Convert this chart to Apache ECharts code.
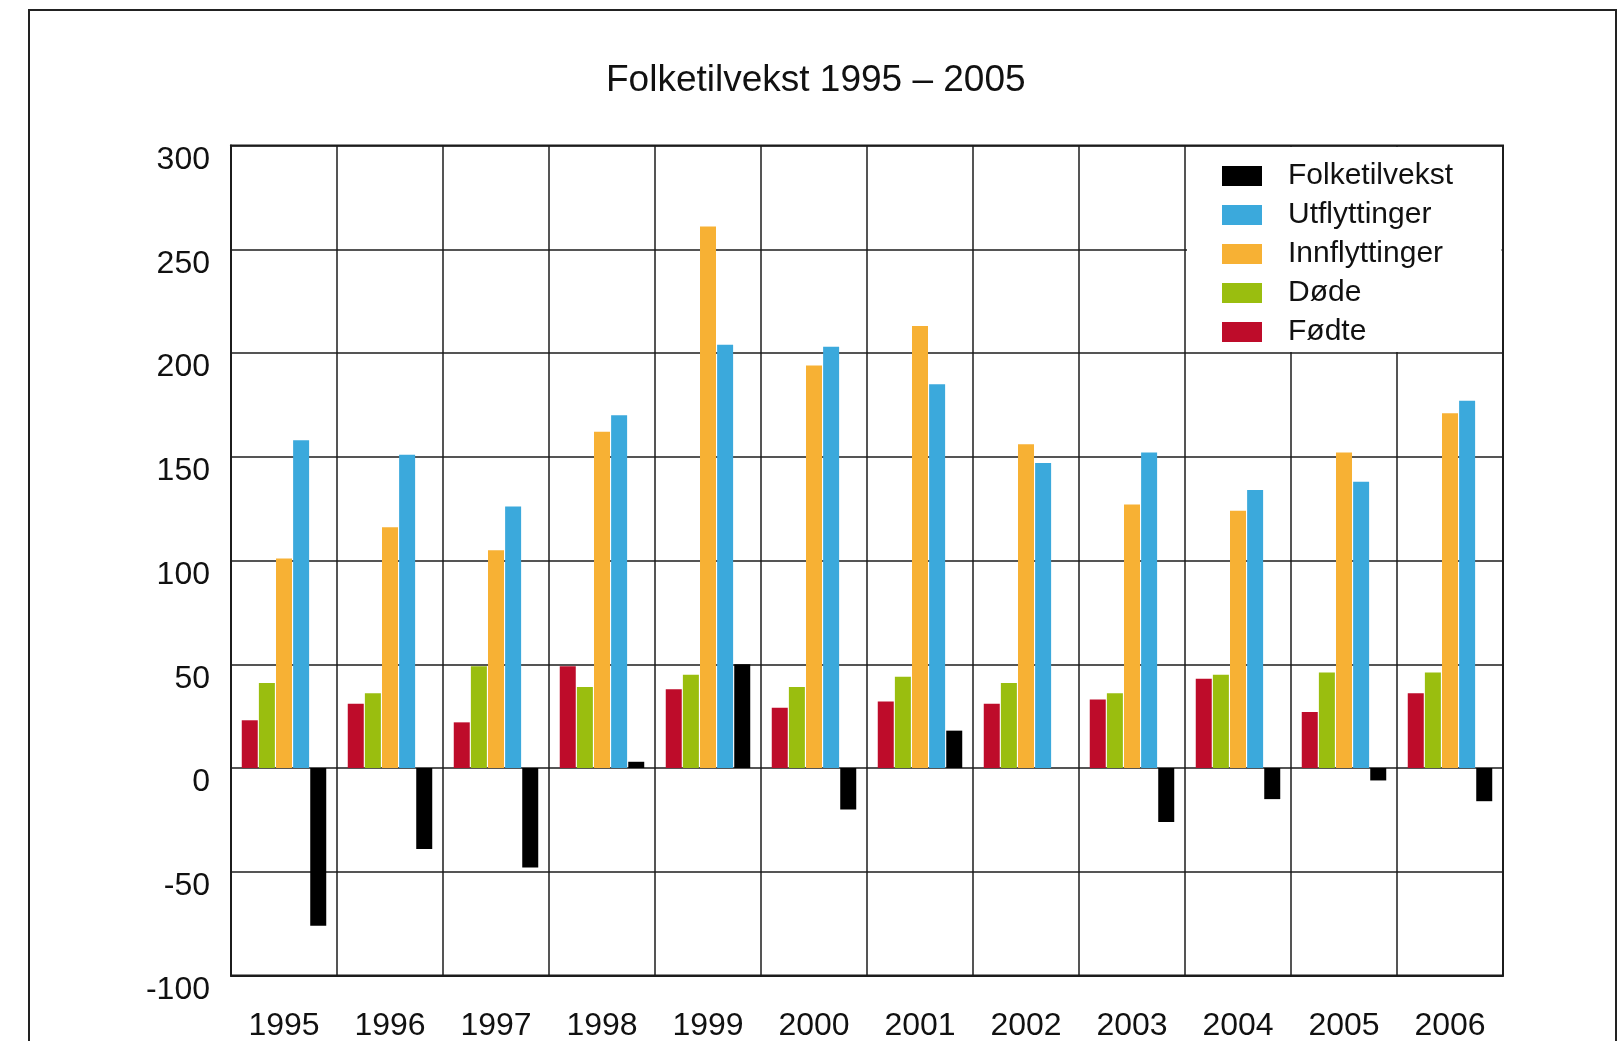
<!DOCTYPE html>
<html>
<head>
<meta charset="utf-8">
<title>Folketilvekst 1995 – 2005</title>
<script src="https://cdn.jsdelivr.net/npm/echarts@6/dist/echarts.min.js"></script>
<style>
    html, body { margin: 0; padding: 0; background: #fff; }
    #chart { width: 1622px; height: 1041px; }
</style>
</head>
<body>
<div id="chart"></div>
<script>
// data
var years = ["1995", "1996", "1997", "1998", "1999", "2000", "2001", "2002", "2003", "2004", "2005", "2006"];
var fodte = [23, 31, 22, 49, 38, 29, 32, 31, 33, 43, 27, 36];
var dode = [41, 36, 49, 39, 45, 39, 44, 41, 36, 45, 46, 46];
var innflyttinger = [101, 116, 105, 162, 261, 194, 213, 156, 127, 124, 152, 171];
var utflyttinger = [158, 151, 126, 170, 204, 203, 185, 147, 152, 134, 138, 177];
var folketilvekst = [-76, -39, -48, 3, 50, -20, 18, 0, -26, -15, -6, -16];
var yTicks = [-100, -50, 0, 50, 100, 150, 200, 250, 300];

var font = "Liberation Sans";
var lineColor = "#1c1c1c";

var myChart = echarts.init(document.getElementById("chart"));

// one bar series
var makeBar = function (name, data, color) {
    return {
        name: name,
        type: "bar",
        data: data,
        barWidth: 16,
        barGap: "7%",
        itemStyle: { color: color },
        emphasis: { disabled: true }
    };
};

var option = {
    animation: false,
    backgroundColor: "#fff",
    title: {
        text: "Folketilvekst 1995 – 2005",
        left: 606,
        top: 62,
        padding: 0,
        textStyle: { fontFamily: font, fontSize: 37, fontWeight: "normal", color: "#111" }
    },
    legend: {
        orient: "vertical",
        left: 1222,
        top: 161,
        padding: 0,
        itemWidth: 40,
        itemHeight: 20,
        itemGap: 9,
        icon: "rect",
        selectedMode: false,
        data: ["Folketilvekst", "Utflyttinger", "Innflyttinger", "Døde", "Fødte"],
        textStyle: { fontFamily: font, fontSize: 30, color: "#111", padding: [0, 0, 0, 21] }
    },
    grid: {
        left: 231,
        right: 119,
        top: 145.5,
        bottom: 65.5,
        outerBoundsMode: "none",
        show: true,
        borderColor: lineColor,
        borderWidth: 2
    },
    xAxis: {
        type: "category",
        data: years,
        axisLine: { onZero: false, lineStyle: { color: lineColor, width: 2 } },
        axisTick: { show: false },
        axisLabel: { interval: 0, margin: 35, fontFamily: font, fontSize: 32, color: "#111" },
        splitLine: { show: true, interval: 0, lineStyle: { color: lineColor, width: 1.5 } }
    },
    yAxis: {
        type: "value",
        min: yTicks[0],
        max: yTicks[yTicks.length - 1],
        interval: 50,
        axisLine: { show: true, lineStyle: { color: lineColor, width: 2 } },
        axisTick: { show: false },
        // labels sit a little below their grid lines
        axisLabel: { margin: 21, fontFamily: font, fontSize: 32, color: "#111", verticalAlign: "top", lineHeight: 29 },
        splitLine: { lineStyle: { color: lineColor, width: 1.6 } }
    },
    graphic: [
        // frame round the whole figure
        {
            type: "rect",
            shape: { x: 29, y: 10, width: 1587, height: 1080 },
            style: { fill: null, stroke: "#222", lineWidth: 2 },
            silent: true
        },
        // white box behind the legend
        {
            type: "rect",
            z: 3,
            shape: { x: 1187, y: 147, width: 314.5, height: 205 },
            style: { fill: "#fff" },
            silent: true
        }
    ],
    series: [
        makeBar("Fødte", fodte, "#be0c2a"),
        makeBar("Døde", dode, "#9abe0f"),
        makeBar("Innflyttinger", innflyttinger, "#f7b134"),
        makeBar("Utflyttinger", utflyttinger, "#3ba9dc"),
        makeBar("Folketilvekst", folketilvekst, "#000")
    ]
};

myChart.setOption(option);
</script>
</body>
</html>
